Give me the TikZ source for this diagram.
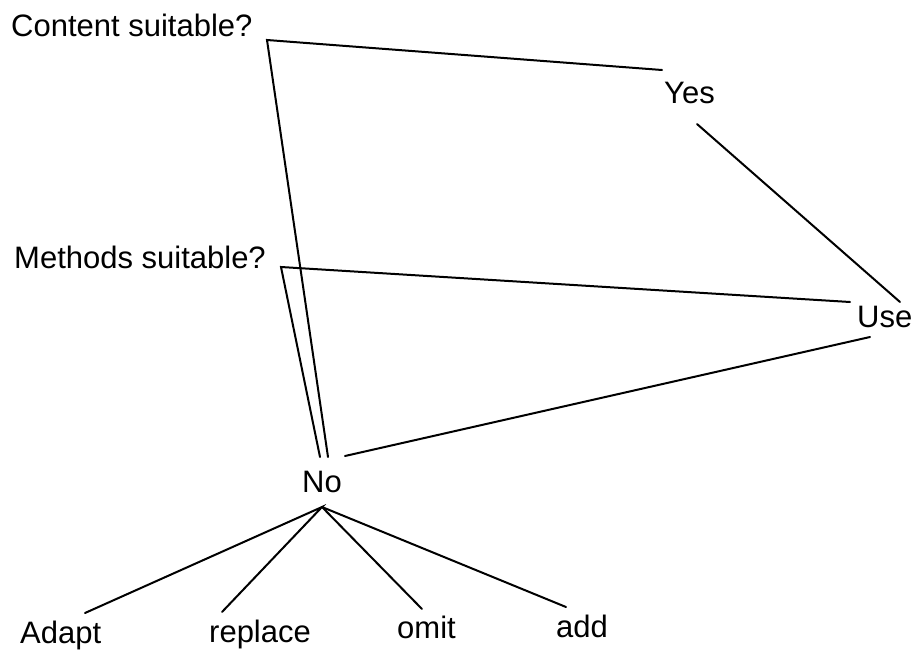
\documentclass[tikz,border=0pt]{standalone}
\usepackage{fontspec}
\setmainfont{Liberation Sans}
\begin{document}
\begin{tikzpicture}[x=1pt,y=-1pt,
  lbl/.style={anchor=base west,inner sep=0pt,font=\fontsize{31}{37}\selectfont},
  conn/.style={line width=2pt,line cap=round,line join=miter}]
\useasboundingbox[fill=white] (0,0) rectangle (916,651);
% labels
\node[lbl] (content) at (11,36) {Content suitable?};
\node[lbl] (methods) at (14,268) {Methods suitable?};
\node[lbl] (yes) at (664,103) {Yes};
\node[lbl] (use) at (857,327) {Use};
\node[lbl] (no) at (302,492) {No};
\node[lbl] (adapt) at (20,643) {Adapt};
\node[lbl] (replace) at (209,642) {replace};
\node[lbl] (omit) at (397,638) {omit};
\node[lbl] (add) at (556,637) {add};
% connector end points
\coordinate (cc) at (267,40);
\coordinate (cy) at (662,70);
\coordinate (cn) at (328,457);
\coordinate (mc) at (281,267);
\coordinate (mu) at (850,302);
\coordinate (mn) at (320,457);
\coordinate (yu1) at (697,124);
\coordinate (yu2) at (900,302);
\coordinate (nu1) at (345,456);
\coordinate (nu2) at (870,337);
\coordinate (apex) at (322,507);
\coordinate (ea) at (85,613);
\coordinate (er) at (222,612);
\coordinate (eo) at (422,609);
\coordinate (ed) at (566,607);
% connectors
\draw[conn] (cy) -- (cc) -- (cn);
\draw[conn] (mu) -- (mc) -- (mn);
\draw[conn] (yu1) -- (yu2);
\draw[conn] (nu1) -- (nu2);
\draw[conn] (ea) -- (apex) -- (er);
\draw[conn] (apex) -- (eo);
\draw[conn] (apex) -- (ed);
\end{tikzpicture}
\end{document}
